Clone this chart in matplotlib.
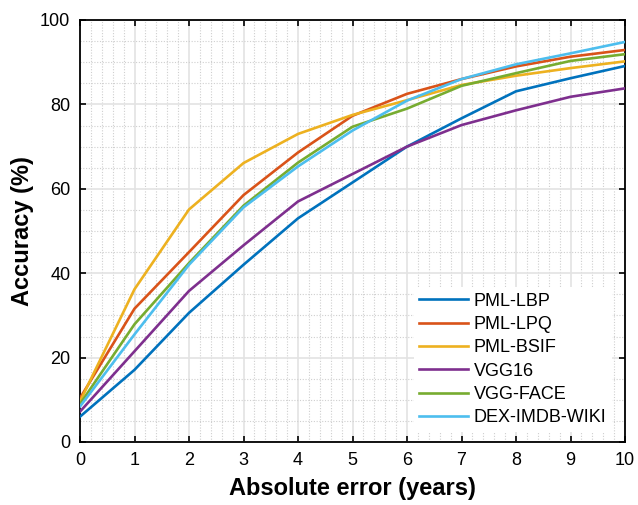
import numpy as np
import matplotlib
matplotlib.use("Agg")
import matplotlib.pyplot as plt
from matplotlib.ticker import MultipleLocator

plt.rcParams["font.family"] = ["Liberation Sans", "DejaVu Sans"]

# ---------------------------------------------------------------------------
# Data
# ---------------------------------------------------------------------------
abs_error = [0, 1, 2, 3, 4, 5, 6, 7, 8, 9, 10]

pml_lbp = [6.0, 17.1, 30.6, 42.0, 53.0, 61.5, 70.0, 76.7, 83.1, 86.2, 89.1]
pml_lpq = [10.4, 31.6, 45.0, 58.5, 68.6, 77.3, 82.5, 86.0, 89.0, 91.3, 92.9]
pml_bsif = [9.6, 36.2, 55.1, 66.1, 73.0, 77.5, 81.0, 84.6, 86.8, 88.6, 90.2]
vgg16 = [7.2, 21.5, 35.8, 46.6, 57.0, 63.5, 70.0, 75.1, 78.6, 81.8, 83.8]
vgg_face = [9.0, 27.9, 42.4, 56.0, 66.2, 74.7, 79.0, 84.4, 87.4, 90.3, 91.9]
dex_imdb_wiki = [8.4, 25.5, 42.0, 55.6, 65.3, 73.8, 80.9, 86.0, 89.5, 92.1, 94.8]

labels = ["PML-LBP", "PML-LPQ", "PML-BSIF", "VGG16", "VGG-FACE", "DEX-IMDB-WIKI"]
series = [pml_lbp, pml_lpq, pml_bsif, vgg16, vgg_face, dex_imdb_wiki]
colors = ["#0072BD", "#D95319", "#EDB120", "#7E2F8E", "#77AC30", "#4DBEEE"]

# ---------------------------------------------------------------------------
# Plot
# ---------------------------------------------------------------------------
W, H = 638, 505
fig = plt.figure(figsize=(W / 100, H / 100), dpi=100)
ax = fig.add_axes([80 / W, (H - 442) / H, (625 - 80) / W, (442 - 20) / H])

for y, lab, col in zip(series, labels, colors):
    ax.plot(abs_error, y, color=col, linewidth=1.9, label=lab, zorder=3)

ax.set_xlim(0, 10)
ax.set_ylim(0, 100)
ax.xaxis.set_major_locator(MultipleLocator(1))
ax.yaxis.set_major_locator(MultipleLocator(20))
ax.xaxis.set_minor_locator(MultipleLocator(0.2))
ax.yaxis.set_minor_locator(MultipleLocator(5))

ax.grid(which="major", color="#e3e3e3", linewidth=1.2, linestyle="-", zorder=0)
ax.grid(which="minor", color="#cfcfcf", linewidth=0.8, linestyle=(0, (1, 1.5)), zorder=0)
ax.set_axisbelow(True)

ax.tick_params(which="major", direction="in", length=4, width=1.2,
               top=True, right=True, labelsize=13, pad=7)
ax.tick_params(which="minor", length=0, top=True, right=True)
for s in ax.spines.values():
    s.set_linewidth(1.3)

ax.set_xlabel("Absolute error (years)", fontsize=17, fontweight="bold", labelpad=6)
ax.set_ylabel("Accuracy (%)", fontsize=17, fontweight="bold", labelpad=4)

leg = ax.legend(loc="lower right", fontsize=13, frameon=True, fancybox=False,
                edgecolor="none", framealpha=1.0, handlelength=2.7,
                labelspacing=0.35, borderpad=0.3, handletextpad=0.3,
                bbox_to_anchor=(0.992, 0.003))

fig.savefig("out.png", dpi=100)
